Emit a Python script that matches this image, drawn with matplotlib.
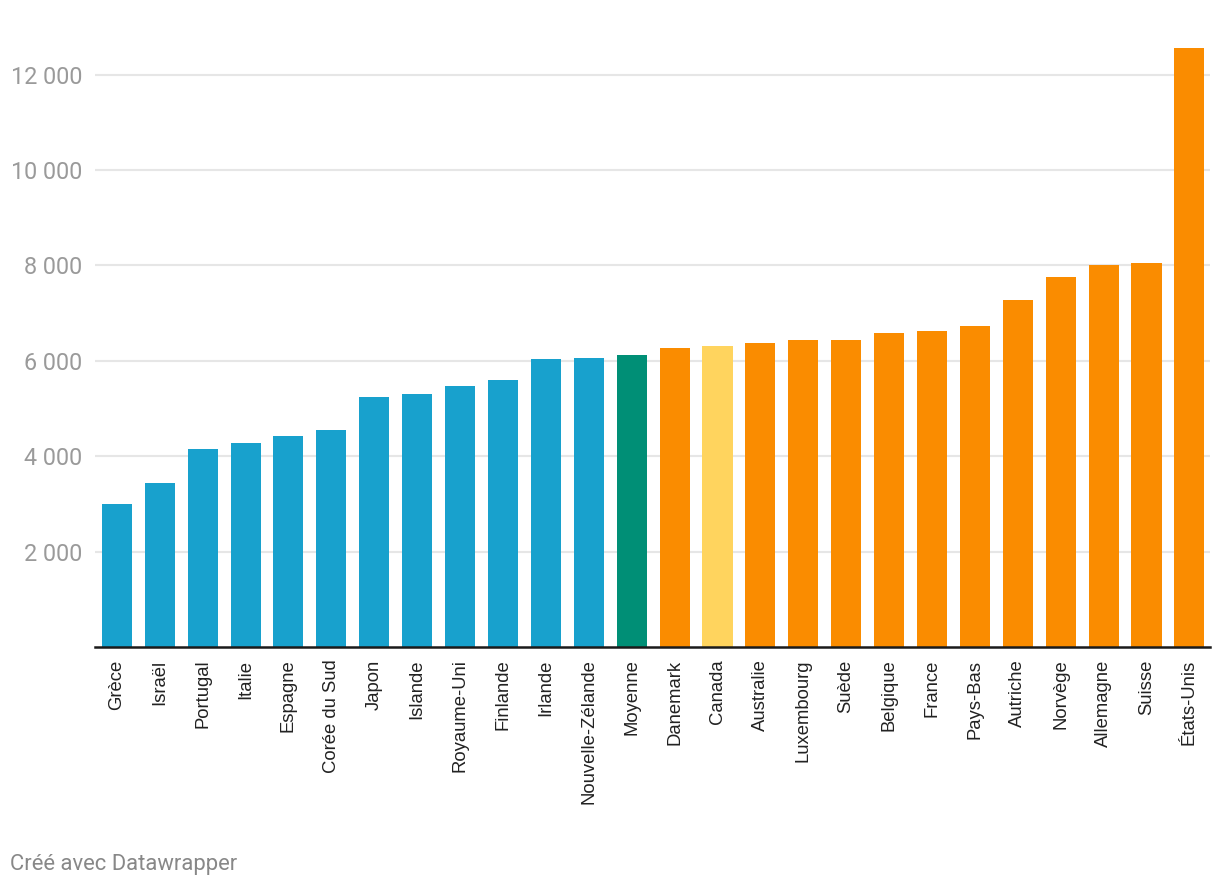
import matplotlib
matplotlib.use("Agg")
import matplotlib.pyplot as plt

# Données
pays = ["Grèce", "Israël", "Portugal", "Italie", "Espagne", "Corée du Sud",
        "Japon", "Islande", "Royaume-Uni", "Finlande", "Irlande",
        "Nouvelle-Zélande", "Moyenne", "Danemark", "Canada", "Australie",
        "Luxembourg", "Suède", "Belgique", "France", "Pays-Bas", "Autriche",
        "Norvège", "Allemagne", "Suisse", "États-Unis"]
valeurs = [3000, 3440, 4155, 4280, 4430, 4555, 5240, 5310, 5480, 5605,
           6045, 6065, 6130, 6275, 6315, 6380, 6440, 6430, 6580, 6620,
           6725, 7270, 7750, 8005, 8045, 12555]
groupes = ["bas"] * 12 + ["moyenne", "haut", "canada"] + ["haut"] * 11
ticks_y = [2000, 4000, 6000, 8000, 10000, 12000]

couleurs_groupes = {"bas": "#18a1cd", "moyenne": "#008f76",
                    "haut": "#fa8c00", "canada": "#ffd45e"}
couleurs = [couleurs_groupes[g] for g in groupes]

# Figure
fig = plt.figure(figsize=(12.2, 8.88), dpi=100)
ax = fig.add_axes([95 / 1220, 1 - 647 / 888, (1210 - 95) / 1220, (647 - 40) / 888])

ax.bar(range(len(pays)), valeurs, width=0.7, color=couleurs, zorder=3)

ax.set_xlim(-0.51, len(pays) - 0.52)
ax.set_ylim(0, (647 - 40) / ((647 - 74.5) / 12000))

ax.set_yticks(ticks_y)
ax.set_yticklabels([f"{v:,}".replace(",", " ") for v in ticks_y],
                   fontfamily="Roboto", fontsize=16.8, color="#9a9a9a")
ax.yaxis.grid(True, color="#e6e6e6", linewidth=1.5, zorder=0)
ax.tick_params(axis="y", length=0, pad=9)

ax.set_xticks(range(len(pays)))
ax.set_xticklabels(pays, rotation=90, fontfamily="Liberation Sans",
                   fontsize=13.3, color="#222222", va="top")
ax.tick_params(axis="x", length=0, pad=9)

for side in ["top", "right", "left"]:
    ax.spines[side].set_visible(False)
ax.spines["bottom"].set_color("#1a1a1a")
ax.spines["bottom"].set_linewidth(1.8)
ax.spines["bottom"].set_zorder(4)

fig.text(10 / 1220, 1 - 864 / 888, "Créé avec Datawrapper", fontfamily="Roboto",
         fontsize=15.8, color="#888888", va="center", ha="left")

fig.savefig("out.png", dpi=100)
